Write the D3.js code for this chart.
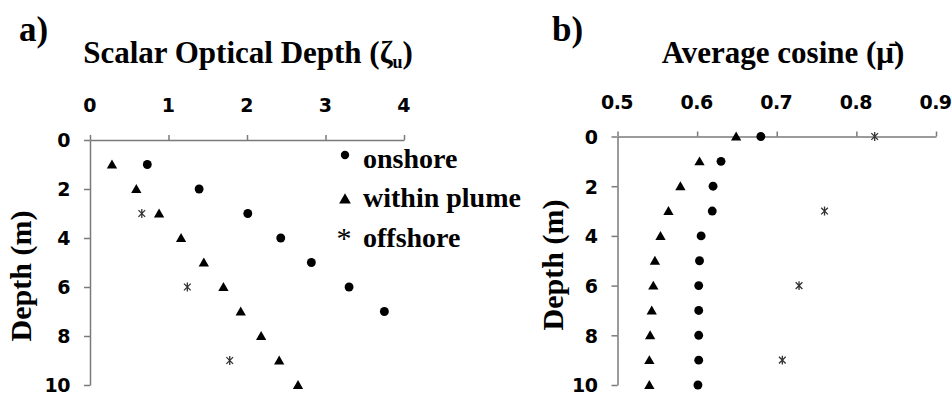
<!DOCTYPE html>
<html>
<head>
<meta charset="utf-8">
<script src="https://cdn.jsdelivr.net/npm/d3@7"></script>
<style>
  html, body { margin: 0; padding: 0; background: #fff; }
  svg { display: block; }
  .serif { font-family: "Liberation Serif", "Times New Roman", serif; font-weight: bold; fill: #000; }
  .tick text { font-family: "DejaVu Sans", Arial, sans-serif; font-weight: bold; font-size: 19px; fill: #000; letter-spacing: -0.5px; }
</style>
</head>
<body>
<script>
// ---- Data ----
// Panel a: Scalar optical depth
const depthsA_onshore = [1, 2, 3, 4, 5, 6, 7];
const onshoreA = [0.73, 1.39, 2.01, 2.43, 2.82, 3.30, 3.75];
const depthsA_plume = [1, 2, 3, 4, 5, 6, 7, 8, 9, 10];
const plumeA = [0.28, 0.59, 0.88, 1.16, 1.45, 1.70, 1.92, 2.18, 2.41, 2.65];
const depthsA_offshore = [3, 6, 9];
const offshoreA = [0.66, 1.24, 1.78];

// Panel b: Average cosine
const depthsB_onshore = [0, 1, 2, 3, 4, 5, 6, 7, 8, 9, 10];
const onshoreB = [0.680, 0.630, 0.620, 0.619, 0.605, 0.603, 0.602, 0.602, 0.602, 0.602, 0.601];
const depthsB_plume = [0, 1, 2, 3, 4, 5, 6, 7, 8, 9, 10];
const plumeB = [0.649, 0.603, 0.579, 0.564, 0.554, 0.547, 0.545, 0.543, 0.541, 0.540, 0.540];
const depthsB_offshore = [0, 3, 6, 9];
const offshoreB = [0.823, 0.760, 0.728, 0.707];

const xTicksA = [0, 1, 2, 3, 4];
const xTicksB = [0.5, 0.6, 0.7, 0.8, 0.9];
const yTicks = [0, 2, 4, 6, 8, 10];
const legendLabels = ["onshore", "within plume", "offshore"];

// ---- Drawing ----
const W = 952, H = 396;
const svg = d3.select("body").append("svg").attr("width", W).attr("height", H);

const axisColor = "#7a7a7a";

// asterisk like "ж": vertical bar plus an X
const starSymbol = {
  draw(context, size) {
    const r = Math.sqrt(size) / 2;
    const d = r * 0.75;
    context.moveTo(0, -r); context.lineTo(0, r);
    context.moveTo(-d, -d); context.lineTo(d, d);
    context.moveTo(-d, d); context.lineTo(d, -d);
  }
};

function zip(xs, ys) { return xs.map((x, i) => ({ v: x, d: ys[i] })); }

function panel(cfg) {
  const g = svg.append("g");
  const x = d3.scaleLinear().domain(cfg.xDomain).range(cfg.xRange);
  const y = d3.scaleLinear().domain([0, 10]).range(cfg.yRange);

  const xAxis = g.append("g")
    .attr("transform", `translate(0,${cfg.yRange[0]})`)
    .call(d3.axisTop(x).tickValues(cfg.xTicks).tickSizeInner(5).tickSizeOuter(0).tickPadding(23)
      .tickFormat(cfg.xFmt));
  const yAxis = g.append("g")
    .attr("transform", `translate(${cfg.xRange[0]},0)`)
    .call(d3.axisLeft(y).tickValues(yTicks).tickSizeInner(6).tickSizeOuter(0).tickPadding(14)
      .tickFormat(d3.format("d")));
  [xAxis, yAxis].forEach(a => {
    a.select(".domain").attr("stroke", axisColor).attr("stroke-width", 1.5);
    a.selectAll(".tick line").attr("stroke", axisColor).attr("stroke-width", 1.5);
  });
  xAxis.selectAll(".tick text").attr("dx", "-1");
  yAxis.selectAll(".tick text").attr("dy", "0.36em");

  const circ = d3.symbol().type(d3.symbolCircle).size(62);
  const tri = d3.symbol().type(d3.symbolTriangle).size(46);
  const ast = d3.symbol().type(starSymbol).size(80);

  g.selectAll(".on").data(zip(cfg.on, cfg.onD)).join("path")
    .attr("d", circ).attr("fill", "#000")
    .attr("transform", p => `translate(${x(p.v)},${y(p.d)})`);
  g.selectAll(".pl").data(zip(cfg.pl, cfg.plD)).join("path")
    .attr("class", "pl")
    .attr("d", tri).attr("fill", "#000")
    .attr("transform", p => `translate(${x(p.v)},${y(p.d) + 1})`);
  g.selectAll(".of").data(zip(cfg.of, cfg.ofD)).join("path")
    .attr("class", "of")
    .attr("d", ast).attr("fill", "none").attr("stroke", "#333").attr("stroke-width", 1.3)
    .attr("transform", p => `translate(${x(p.v)},${y(p.d)})`);

  // panel letter
  svg.append("text").attr("class", "serif").attr("x", cfg.letterX).attr("y", 41)
    .attr("font-size", 35).text(cfg.letter);
  // title
  const t = svg.append("text").attr("class", "serif").attr("x", cfg.titleX).attr("y", 63)
    .attr("text-anchor", "middle").attr("font-size", 31);
  cfg.title(t);
  // y label
  svg.append("text").attr("class", "serif")
    .attr("transform", `translate(${cfg.yLabelX},${cfg.yLabelY}) rotate(-90)`)
    .attr("text-anchor", "middle").attr("font-size", 30).text("Depth (m)");
  return { x, y };
}

panel({
  xDomain: [0, 4], xRange: [90, 404], yRange: [140, 385], xTicks: xTicksA,
  xFmt: d3.format("d"),
  on: onshoreA, onD: depthsA_onshore, pl: plumeA, plD: depthsA_plume, of: offshoreA, ofD: depthsA_offshore,
  letter: "a)", letterX: 19, titleX: 248, yLabelX: 31, yLabelY: 276,
  title: t => {
    t.append("tspan").text("Scalar Optical Depth (ζ");
    t.append("tspan").attr("font-size", 18).attr("dy", 5).text("u");
    t.append("tspan").attr("dy", -5).text(")");
  }
});

panel({
  xDomain: [0.5, 0.9], xRange: [617.5, 936], yRange: [136.5, 385], xTicks: xTicksB,
  xFmt: d3.format(".1f"),
  on: onshoreB, onD: depthsB_onshore, pl: plumeB, plD: depthsB_plume, of: offshoreB, ofD: depthsB_offshore,
  letter: "b)", letterX: 552, titleX: 783, yLabelX: 563, yLabelY: 265,
  title: t => { t.text("Average cosine (\u03BC\u0304)"); }
});

// legend (inside panel a)
const legY = [168, 207, 247];
const lg = svg.append("g");
lg.append("path").attr("d", d3.symbol().type(d3.symbolCircle).size(55)())
  .attr("transform", `translate(345,155)`).attr("fill", "#000");
lg.append("path").attr("d", d3.symbol().type(d3.symbolTriangle).size(60)())
  .attr("transform", `translate(345,200)`).attr("fill", "#000");
lg.append("text").attr("x", 344).attr("y", 248).attr("text-anchor", "middle")
  .attr("font-family", "Liberation Serif, serif").attr("font-size", 30).text("*");
lg.selectAll(".lt").data(legendLabels).join("text")
  .attr("class", "serif").attr("x", 363).attr("y", (d, i) => legY[i])
  .attr("font-size", 28).text(d => d);
</script>
</body>
</html>
